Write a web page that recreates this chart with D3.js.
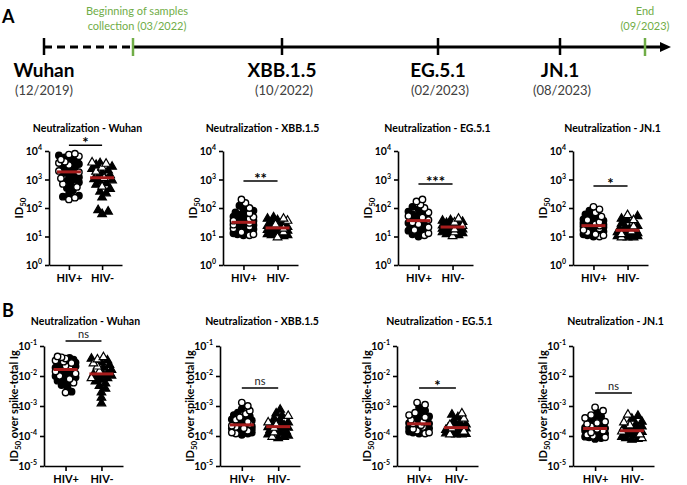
<!DOCTYPE html>
<html><head><meta charset="utf-8">
<script src="https://cdn.jsdelivr.net/npm/d3@7"></script>
<style>body{margin:0;background:#fff}svg{display:block}text{font-family:Lato,"Open Sans",sans-serif}</style>
</head><body><svg id="c" width="687" height="485"></svg>
<script>
// ---------------- DATA ----------------
const variants = ["Wuhan", "XBB.1.5", "EG.5.1", "JN.1"];
const groups = ["HIV+", "HIV-"];
const timelineLabels = ["Wuhan", "XBB.1.5", "EG.5.1", "JN.1"];
const timelineDates = ["(12/2019)", "(10/2022)", "(02/2023)", "(08/2023)"];
const id50Ticks = [1, 10, 100, 1000, 10000];
const normTicks = [1e-5, 1e-4, 1e-3, 1e-2, 1e-1];
const id50Sig = ["*", "**", "***", "*"];
const id50SigLevel = [16000, 880, 700, 590];
const normSig = ["ns", "ns", "*", "ns"];
const normSigLevel = [0.147, 0.004, 0.004, 0.0027];

// ID50 values, index = variant
const id50PosFilled = [
  [7000,6000,5500,4800,4500,4000,3500,3000,2600,2200,1900,1700,1600,1400,1200,1000,900,800,650,500,420,300,270,250],
  [120,90,80,70,60,55,50,45,40,38,35,33,30,28,25,23,20,18,16,15,14,13,12,11],
  [110,90,75,65,60,55,50,45,42,40,37,35,33,30,28,26,24,22,20,18,16,14,12,10],
  [80,60,50,45,40,36,33,30,28,26,25,24,23,22,21,20,18,16,15,14,13,12,11,10]
];
const id50PosOpen = [
  [8000,7500,6500,5000,4200,3800,3200,2000,1800,1100,700,550,230,200],
  [200,150,100,65,48,42,36,30,26,22,19,14,12,11],
  [200,170,130,100,70,52,46,38,31,27,21,17,13,11],
  [110,90,70,50,38,32,27,24,19,17,14,12,11,10]
];
const id50NegFilled = [
  [4000,3500,3000,2500,2200,1800,1500,1300,1100,1000,900,800,700,500,400,350,250,90,80,65],
  [50,45,40,35,30,28,25,23,22,20,19,18,17,16,15,14,13,12,12,11],
  [40,38,35,32,30,28,26,24,23,22,21,20,19,18,17,16,15,14,13,12],
  [55,45,40,30,25,22,20,19,18,17,16,15,14,13,12,12,11,11,10,10]
];
const id50NegOpen = [
  [4200,3800,2800,2000,1200,600],
  [45,38,28,20,15,10],
  [45,33,25,19,15,11],
  [60,40,24,16,13,10]
];
// ID50 over spike-total Ig
const normPosFilled = [
  [0.04,0.035,0.032,0.03,0.028,0.025,0.023,0.021,0.019,0.018,0.017,0.016,0.015,0.013,0.012,0.011,0.01,0.009,0.008,0.007,0.006,0.005,0.004,0.003],
  [8e-4,6e-4,5e-4,4.5e-4,4e-4,3.6e-4,3.3e-4,3e-4,2.8e-4,2.6e-4,2.4e-4,2.3e-4,2.2e-4,2.1e-4,2e-4,1.9e-4,1.8e-4,1.7e-4,1.6e-4,1.5e-4,1.4e-4,1.3e-4,1.2e-4,1.1e-4],
  [9e-4,7e-4,5.5e-4,4.5e-4,4e-4,3.7e-4,3.4e-4,3.1e-4,2.9e-4,2.7e-4,2.6e-4,2.5e-4,2.4e-4,2.3e-4,2.2e-4,2.1e-4,2e-4,1.9e-4,1.8e-4,1.6e-4,1.5e-4,1.4e-4,1.3e-4,1.2e-4],
  [6e-4,4.5e-4,3.8e-4,3.2e-4,2.8e-4,2.6e-4,2.4e-4,2.2e-4,2e-4,1.9e-4,1.8e-4,1.75e-4,1.7e-4,1.6e-4,1.5e-4,1.4e-4,1.3e-4,1.2e-4,1.1e-4,1e-4,9.5e-5,9e-5,8.5e-5,8e-5]
];
const normPosOpen = [
  [0.045,0.042,0.038,0.033,0.03,0.027,0.022,0.02,0.014,0.012,0.01,0.008,0.006,0.0028],
  [1.3e-3,1e-3,7e-4,5.5e-4,4.2e-4,3.5e-4,3e-4,2.5e-4,2.2e-4,2e-4,1.8e-4,1.5e-4,1.3e-4,1.2e-4],
  [1.3e-3,1.1e-3,6e-4,5e-4,4.2e-4,3.5e-4,3e-4,2.6e-4,2.3e-4,2e-4,1.7e-4,1.5e-4,1.3e-4,1.2e-4],
  [9e-4,7e-4,5e-4,4e-4,3e-4,2.7e-4,2.5e-4,2.1e-4,1.7e-4,1.5e-4,1.3e-4,1.1e-4,1e-4,9e-5]
];
const normNegFilled = [
  [0.04,0.035,0.03,0.025,0.02,0.017,0.013,0.012,0.0115,0.011,0.01,0.009,0.008,0.007,0.006,0.005,0.004,0.003,0.002,0.0013],
  [8e-4,6e-4,5e-4,4e-4,3.5e-4,3e-4,2.7e-4,2.4e-4,2.2e-4,2.1e-4,2e-4,1.9e-4,1.8e-4,1.7e-4,1.5e-4,1.3e-4,1.2e-4,1.1e-4,1e-4,9e-5],
  [5.5e-4,4.5e-4,3.5e-4,3e-4,2.6e-4,2.3e-4,2.1e-4,2e-4,1.95e-4,1.9e-4,1.85e-4,1.8e-4,1.7e-4,1.6e-4,1.5e-4,1.4e-4,1.3e-4,1.25e-4,1.2e-4,1.2e-4],
  [5e-4,4e-4,3.2e-4,2.6e-4,2.2e-4,2e-4,1.8e-4,1.7e-4,1.6e-4,1.5e-4,1.45e-4,1.4e-4,1.3e-4,1.25e-4,1.2e-4,1.1e-4,1e-4,9e-5,8.5e-5,8e-5]
];
const normNegOpen = [
  [0.045,0.038,0.028,0.022,0.015,0.009],
  [5e-4,3e-4,2.5e-4,2e-4,1.4e-4,1e-4],
  [6e-4,4e-4,2.5e-4,1.9e-4,1.5e-4,1.2e-4],
  [5.5e-4,3e-4,2.4e-4,1.5e-4,1.2e-4,9e-5]
];

// ---------------- DRAW ----------------
const svg = d3.select("#c");
const GREEN = "#70ad47", RED = "#a61c1c";

// Panel letters
svg.append("text").attr("x", 2).attr("y", 23).attr("font-size", 18).attr("font-weight", 700).text("A");
svg.append("text").attr("x", 2).attr("y", 317).attr("font-size", 18).attr("font-weight", 700).text("B");

// Timeline (schematic, polylinear time scale)
const tl = d3.scaleTime()
  .domain([new Date(2019,11,1), new Date(2022,2,1), new Date(2022,9,1), new Date(2023,1,1), new Date(2023,7,1), new Date(2023,8,1)])
  .range([44, 133, 282, 438, 560, 645]);
const tlY = 47;
const eventDates = [new Date(2019,11,1), new Date(2022,9,1), new Date(2023,1,1), new Date(2023,7,1)];
const gT = svg.append("g");
gT.append("line").attr("x1", tl(eventDates[0])).attr("x2", tl(new Date(2022,2,1))).attr("y1", tlY).attr("y2", tlY)
  .attr("stroke", "#000").attr("stroke-width", 3).attr("stroke-dasharray", "8,5");
gT.append("line").attr("x1", tl(new Date(2022,2,1))).attr("x2", 664).attr("y1", tlY).attr("y2", tlY)
  .attr("stroke", "#000").attr("stroke-width", 3);
gT.append("path").attr("d", `M${660},${tlY-5}L${671},${tlY}L${660},${tlY+5}Z`).attr("fill", "#000");
eventDates.forEach((d, i) => {
  const x = tl(d);
  gT.append("line").attr("x1", x).attr("x2", x).attr("y1", tlY-9).attr("y2", tlY+8).attr("stroke", "#000").attr("stroke-width", 2.5);
  gT.append("text").attr("x", x).attr("y", 77).attr("text-anchor", "middle").attr("font-size", 19).attr("font-weight", 700).text(timelineLabels[i]);
  gT.append("text").attr("x", x + (i === 0 ? 0 : 2)).attr("y", 95).attr("text-anchor", "middle").attr("font-size", 13).attr("fill", "#404040").text(timelineDates[i]);
});
[[new Date(2022,2,1), ["Beginning of samples", "collection (03/2022)"], 4], [new Date(2023,8,1), ["End", "(09/2023)"], 0]].forEach(([d, lines, dx]) => {
  const x = tl(d);
  gT.append("line").attr("x1", x).attr("x2", x).attr("y1", tlY-9).attr("y2", tlY+9).attr("stroke", GREEN).attr("stroke-width", 2.5);
  lines.forEach((t, j) => gT.append("text").attr("x", x + dx).attr("y", 15 + j*15).attr("text-anchor", "middle")
    .attr("font-size", 11).attr("fill", GREEN).text(t));
});

// Beeswarm placement
const offsets = [0];
for (let k = 2; k <= 10; k += 2) { offsets.push(k, -k); }
function swarm(points, y, cx, r) {
  const placed = [];
  const sorted = points.slice().sort((a, b) => y(b.v) - y(a.v));
  for (const p of sorted) {
    const py = y(p.v);
    let best = 0, bestD = -1;
    for (const o of offsets) {
      let minD = Infinity;
      for (const q of placed) { const dd = Math.hypot(q.x - (cx + o), q.y - py); if (dd < minD) minD = dd; }
      if (minD >= 2 * r * 0.75) { best = o; bestD = Infinity; break; }
      if (minD > bestD) { bestD = minD; best = o; }
    }
    placed.push({ v: p.v, open: p.open, x: cx + best, y: py });
  }
  return placed;
}

function supLabel(sel, exp) {
  sel.text(null);
  sel.append("tspan").text("10");
  sel.append("tspan").attr("dy", -5).attr("font-size", 7).text(exp);
}

function panel(opt) {
  const g = svg.append("g");
  const x = d3.scalePoint().domain(groups).range([opt.ax, opt.ax + opt.w]).padding(0.6);
  const y = d3.scaleLog().domain(opt.domain).range([opt.y0, opt.y1]);
  // axes
  const ya = g.append("g").attr("transform", `translate(${opt.ax},0)`)
    .call(d3.axisLeft(y).tickValues(opt.ticks).tickSize(4).tickSizeOuter(0).tickPadding(3).tickFormat(""));
  ya.selectAll(".tick text").each(function(d) { supLabel(d3.select(this), String(Math.round(Math.log10(d)))); })
    .attr("font-size", 10.5).attr("font-weight", 700).attr("font-family", "Lato").attr("dy", "0.35em");
  const xa = g.append("g").attr("transform", `translate(0,${opt.y0})`)
    .call(d3.axisBottom(x).tickSize(5).tickSizeOuter(0).tickPadding(4));
  xa.selectAll(".tick text").attr("font-size", 11).attr("font-weight", 700).attr("font-family", "Lato");
  g.selectAll(".domain, .tick line").attr("stroke", "#000").attr("stroke-width", 1.6);
  // title
  g.append("text").attr("x", opt.ax + opt.w / 2 + 2).attr("y", opt.titleY).attr("text-anchor", "middle")
    .attr("font-size", 10.5).attr("font-weight", 700).text(opt.title);
  // y label
  const yl = g.append("text").attr("transform", `translate(${opt.ax - 26},${(opt.y0 + opt.y1) / 2}) rotate(-90)`)
    .attr("text-anchor", "middle").attr("font-size", 11).attr("font-weight", 700);
  yl.append("tspan").text("ID");
  yl.append("tspan").attr("dy", 3).attr("font-size", 8).text("50");
  if (opt.ylabelRest) yl.append("tspan").attr("dy", -3).text(opt.ylabelRest);
  // points
  groups.forEach((grp, gi) => {
    const pts = opt.data[gi][0].map(v => ({ v, open: false })).concat(opt.data[gi][1].map(v => ({ v, open: true })));
    const placed = swarm(pts, y, x(grp), 3.3);
    const ordered = placed.filter(p => !p.open).concat(placed.filter(p => p.open));
    if (gi === 0) {
      g.selectAll(null).data(ordered).join("circle")
        .attr("cx", d => d.x).attr("cy", d => d.y).attr("r", 3.2)
        .attr("fill", d => d.open ? "#fff" : "#000").attr("stroke", "#000").attr("stroke-width", 1.4);
    } else {
      const sym = d3.symbol().type(d3.symbolTriangle).size(32);
      g.selectAll(null).data(ordered).join("path")
        .attr("transform", d => `translate(${d.x},${d.y + 0.8})`).attr("d", sym)
        .attr("fill", d => d.open ? "#fff" : "#000").attr("stroke", "#000").attr("stroke-width", 1.2);
    }
    const med = d3.median(pts, p => p.v);
    g.append("line").attr("x1", x(grp) - 12).attr("x2", x(grp) + 12).attr("y1", y(med)).attr("y2", y(med))
      .attr("stroke", RED).attr("stroke-width", 3);
  });
  // significance
  const by = y(opt.sigLevel);
  g.append("line").attr("x1", x(groups[0])).attr("x2", x(groups[1])).attr("y1", by).attr("y2", by)
    .attr("stroke", "#000").attr("stroke-width", 1.5);
  const isNs = opt.sig === "ns";
  g.append("text").attr("x", (x(groups[0]) + x(groups[1])) / 2).attr("y", isNs ? by - 3 : by + 3)
    .attr("text-anchor", "middle").attr("font-size", isNs ? 11 : 15).attr("font-weight", isNs ? 400 : 700)
    .attr("fill", isNs ? "#222" : "#000").text(opt.sig);
}

const rowAaxes = [49, 223, 398, 573], rowAw = [73, 75, 75, 75];
const rowBaxes = [44, 220, 397, 573], rowBw = [79, 80, 81, 81];
variants.forEach((v, i) => {
  panel({ ax: rowAaxes[i], w: rowAw[i], domain: [1, 1e4], ticks: id50Ticks, y0: 265, y1: 151, titleY: 132,
    title: "Neutralization - " + v, data: [[id50PosFilled[i], id50PosOpen[i]], [id50NegFilled[i], id50NegOpen[i]]],
    sig: id50Sig[i], sigLevel: id50SigLevel[i] });
  panel({ ax: rowBaxes[i], w: rowBw[i], domain: [1e-5, 1e-1], ticks: normTicks, y0: 466, y1: 346, titleY: 325,
    title: "Neutralization - " + v, data: [[normPosFilled[i], normPosOpen[i]], [normNegFilled[i], normNegOpen[i]]],
    sig: normSig[i], sigLevel: normSigLevel[i], ylabelRest: " over spike-total Ig" });
});
</script></body></html>
